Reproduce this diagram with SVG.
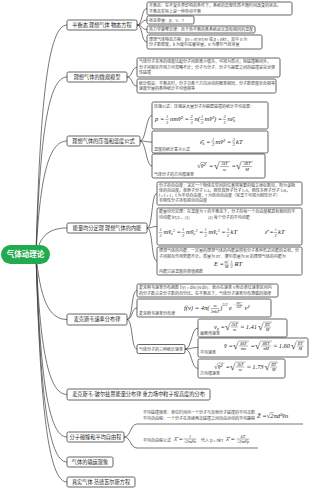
<svg xmlns="http://www.w3.org/2000/svg" width="310" height="488" viewBox="0 0 310 488">
<style>
.bx{fill:#fff;stroke:#3c3c3c;stroke-width:0.8}
.lk{fill:none;stroke:#3c3c3c;stroke-width:0.7}
.ul{stroke:#3c3c3c;stroke-width:0.7}
.t1{font-family:"Noto Sans CJK SC","Noto Sans",sans-serif;font-size:5.2px;fill:#222;text-anchor:middle}
.t2{font-family:"Noto Sans CJK SC","Noto Sans",sans-serif;font-size:4px;fill:#444}
.rt{font-family:"Noto Sans CJK SC","Noto Sans",sans-serif;font-size:7.5px;font-weight:bold;fill:#fff;text-anchor:middle}
.f{font-family:"Liberation Serif",serif;font-style:italic;font-size:6.5px;fill:#222}
.fn{font-family:"Liberation Serif",serif;font-style:italic;font-size:4.3px;fill:#222;text-anchor:middle}
.fx{font-family:"Liberation Serif",serif;font-style:italic;font-size:3.3px;fill:#222;text-anchor:middle}
.sq{font-family:"Liberation Serif",serif;font-size:9.5px;fill:#222}
.sq2{font-family:"Liberation Serif",serif;font-size:7px;fill:#222}
.fb{stroke:#222;stroke-width:0.35}
</style>
<rect x="0" y="0" width="310" height="488" fill="#fff"/>

<g id="connectors">
<path class="lk" d="M36 254 C40 103 48 25 67 25"/>
<path class="lk" d="M36 254 C40 137 48 77 67 77"/>
<path class="lk" d="M36 254 C40 179 48 141 67 141"/>
<path class="lk" d="M36 254 C40 237 48 228 67 228"/>
<path class="lk" d="M36 254 C40 297 48 319.5 67 319.5"/>
<path class="lk" d="M36 254 C40 347 48 394.5 67 394.5"/>
<path class="lk" d="M36 254 C40 375 48 437 67 437"/>
<path class="lk" d="M36 254 C40 391 48 462 67 462"/>
<path class="lk" d="M36 254 C40 404 48 482 67 482"/>
<path class="lk" d="M137 25 C143 25 141 8.5 147 8.5"/>
<path class="lk" d="M137 25 C143 25 141 20 147 20"/>
<path class="lk" d="M137 25 C143 25 141 29.5 147 29.5"/>
<path class="lk" d="M137 25 C143 25 141 42 147 42"/>
<path class="lk" d="M127 77 C133 77 131 67.5 137 67.5"/>
<path class="lk" d="M127 77 C133 77 131 86 137 86"/>
<path class="lk" d="M140 141 C146 141 146 115.5 152 115.5"/>
<path class="lk" d="M140 141 C146 141 146 142 152 142"/>
<path class="lk" d="M140 141 C146 141 146 166 152 166"/>
<path class="lk" d="M147 228 C153 228 151 193.5 157 193.5"/>
<path class="lk" d="M147 228 C153 228 151 226.5 157 226.5"/>
<path class="lk" d="M147 228 C153 228 151 261 157 261"/>
<path class="lk" d="M127 319.5 C133 319.5 131 290.5 137 290.5"/>
<path class="lk" d="M127 319.5 C133 319.5 131 308 137 308"/>
<path class="lk" d="M127 319.5 C133 319.5 131 349 137 349"/>
<path class="lk" d="M185 349 C192 349 191 328 198 328"/>
<path class="lk" d="M185 349 C192 349 191 347.5 198 347.5"/>
<path class="lk" d="M185 349 C192 349 191 368.5 198 368.5"/>
<path class="lk" d="M124 437 C131 437 130 424 137 424"/>
<path class="lk" d="M124 437 C131 437 130 448 137 448"/>
</g>

<g id="root">
<rect x="1" y="245" width="49" height="19" rx="9.5" fill="#22aa4f"/>
<text class="rt" x="25.5" y="257.3">气体动理论</text>
</g>

<g id="b1">
<rect class="bx" x="67" y="20" width="70" height="10" rx="1.5"/>
<text class="t1" x="102" y="26.9">平衡态 理想气体 物态方程</text>
</g>
<g id="b1a">
<rect class="bx" x="147" y="2" width="145" height="13" rx="1.5"/>
<text class="t2" x="149" y="7.3">平衡态：在不受外界影响的条件下，系统的宏观性质不随时间改变的状态。</text>
<text class="t2" x="149" y="12.8">平衡态实际上是一种热动平衡</text>
</g>
<g id="b1b">
<rect class="bx" x="147" y="16" width="47" height="8" rx="1.5"/>
<text class="t2" x="149" y="21.5">状态参量：p、V、T</text>
</g>
<g id="b1c">
<rect class="bx" x="147" y="26" width="108" height="7" rx="1.5"/>
<text class="t2" x="149" y="31">热力学第零定律：处于热平衡的各系统必定具有相同的温度</text>
</g>
<g id="b1d">
<rect class="bx" x="147" y="35" width="115" height="14" rx="1.5"/>
<text class="t2" x="149" y="40.6">理想气体物态方程：pV = m'RT/M 或 p = nkT，其中 n 为</text>
<text class="t2" x="149" y="46.2">分子数密度，k 为玻尔兹曼常量，R 为摩尔气体常量</text>
</g>

<g id="b2">
<rect class="bx" x="67" y="72" width="60" height="10" rx="1.5"/>
<text class="t1" x="97" y="78.9">理想气体的微观模型</text>
</g>
<g id="b2a">
<rect class="bx" x="137" y="58" width="143" height="19" rx="1.5"/>
<text class="t2" x="139" y="63.3">气体分子本身的线度比起分子间距离小很多，可视为质点；除碰撞瞬间外，</text>
<text class="t2" x="139" y="68.8">分子间相互作用力可忽略不计；分子与分子、分子与器壁之间的碰撞是完全弹</text>
<text class="t2" x="139" y="74.3">性碰撞</text>
</g>
<g id="b2b">
<rect class="bx" x="137" y="79" width="139" height="14" rx="1.5"/>
<text class="t2" x="139" y="84.5">统计假设：平衡态时，分子沿各个方向运动的概率相同，分子数密度处处相等</text>
<text class="t2" x="139" y="90.2">速度分量的各种统计平均值相等</text>
</g>

<g id="b3">
<rect class="bx" x="67" y="136" width="73" height="10" rx="1.5"/>
<text class="t1" x="103.5" y="142.9">理想气体的压强和温度公式</text>
</g>
<g id="b3a">
<rect class="bx" x="152" y="102" width="116" height="27" rx="1.5"/>
<text class="t2" x="154" y="107.5">压强公式：压强是大量分子对器壁碰撞的统计平均效果：</text>
<text class="f" x="155" y="121">p =</text>
<text class="fn" x="167" y="118.3">1</text><line class="fb" x1="165.3" y1="119.5" x2="168.7" y2="119.5"/><text class="fn" x="167" y="123.6">3</text>
<text class="f" x="170" y="121">nmv̄² =</text>
<text class="fn" x="191.5" y="118.3">2</text><line class="fb" x1="189.8" y1="119.5" x2="193.2" y2="119.5"/><text class="fn" x="191.5" y="123.6">3</text>
<text class="f" x="194.5" y="121">n(</text>
<text class="fn" x="202" y="118.3">1</text><line class="fb" x1="200.3" y1="119.5" x2="203.7" y2="119.5"/><text class="fn" x="202" y="123.6">2</text>
<text class="f" x="204.5" y="121">mv̄²) =</text>
<text class="fn" x="224.5" y="118.3">2</text><line class="fb" x1="222.8" y1="119.5" x2="226.2" y2="119.5"/><text class="fn" x="224.5" y="123.6">3</text>
<text class="f" x="227.5" y="121">nε̄<tspan font-size="4" dy="1">k</tspan></text>
</g>
<g id="b3b">
<rect class="bx" x="152" y="131" width="116" height="22" rx="1.5"/>
<text class="f" x="200" y="143.5">ε̄<tspan font-size="4" dy="1">k</tspan><tspan dy="-1"> =</tspan></text>
<text class="fn" x="213" y="140.8">1</text><line class="fb" x1="211.3" y1="142" x2="214.7" y2="142"/><text class="fn" x="213" y="146.1">2</text>
<text class="f" x="215.5" y="143.5">mv̄² =</text>
<text class="fn" x="233.5" y="140.8">3</text><line class="fb" x1="231.8" y1="142" x2="235.2" y2="142"/><text class="fn" x="233.5" y="146.1">2</text>
<text class="f" x="236" y="143.5">kT</text>
<text class="t2" x="154" y="150.5">温度的统计意义公式</text>
</g>
<g id="b3c">
<rect class="bx" x="152" y="154" width="113" height="24" rx="1.5"/>
<text class="sq2" x="197" y="168">√</text><line class="fb" x1="200.7" y1="162.6" x2="207.3" y2="162.6"/>
<text class="f" x="200.8" y="168">v̄²</text>
<text class="f" x="209" y="168">=</text>
<text class="sq" x="214" y="169">√</text><line class="fb" x1="219" y1="161.6" x2="230" y2="161.6"/>
<text class="fn" x="224.5" y="165.3">3kT</text><line class="fb" x1="220" y1="166.5" x2="229" y2="166.5"/><text class="fn" x="224.5" y="170.6">m</text>
<text class="f" x="231.5" y="168">=</text>
<text class="sq" x="236" y="169">√</text><line class="fb" x1="241" y1="161.6" x2="253" y2="161.6"/>
<text class="fn" x="247" y="165.3">3RT</text><line class="fb" x1="242" y1="166.5" x2="252" y2="166.5"/><text class="fn" x="247" y="170.6">M</text>
<text class="t2" x="154" y="175.5">气体分子的方均根速率</text>
</g>

<g id="b4">
<rect class="bx" x="67" y="223" width="80" height="10" rx="1.5"/>
<text class="t1" x="107" y="229.9">能量均分定理 理想气体的内能</text>
</g>
<g id="b4a">
<rect class="bx" x="157" y="182" width="145" height="23" rx="1.5"/>
<text class="t2" x="159" y="187.3">分子的自由度：决定一个物体在空间的位置所需要的独立坐标数目，称为该物</text>
<text class="t2" x="159" y="192.3">体的自由度。单原子分子 i=3，刚性双原子分子 i=5，刚性多原子分子 i=6，</text>
<text class="t2" x="159" y="197.3">i = t + r，t 为平动自由度，r 为转动自由度（常温下可视为刚性分子）</text>
<text class="t2" x="159" y="202.3">非刚性分子还有振动自由度</text>
</g>
<g id="b4b">
<rect class="bx" x="157" y="208" width="145" height="37" rx="1.5"/>
<text class="t2" x="159" y="213.3">能量均分定理：在温度为 T 的平衡态下，分子的每一个自由度都具有相同的平</text>
<text class="t2" x="159" y="218.8">均动能 kT/2 。(1)</text>
<text class="t2" x="208" y="218.8">(2) 每个分子的平均动能</text>
<text class="fn" x="160.5" y="231.3">1</text><line class="fb" x1="158.8" y1="232.5" x2="162.2" y2="232.5"/><text class="fn" x="160.5" y="236.6">2</text>
<text class="f" x="163.5" y="234">mv̄<tspan font-size="4" dy="1">x</tspan><tspan font-size="4" dy="-3.5">2</tspan><tspan dy="2.5"> =</tspan></text>
<text class="fn" x="183" y="231.3">1</text><line class="fb" x1="181.3" y1="232.5" x2="184.7" y2="232.5"/><text class="fn" x="183" y="236.6">2</text>
<text class="f" x="186" y="234">mv̄<tspan font-size="4" dy="1">y</tspan><tspan font-size="4" dy="-3.5">2</tspan><tspan dy="2.5"> =</tspan></text>
<text class="fn" x="205.5" y="231.3">1</text><line class="fb" x1="203.8" y1="232.5" x2="207.2" y2="232.5"/><text class="fn" x="205.5" y="236.6">2</text>
<text class="f" x="208.5" y="234">mv̄<tspan font-size="4" dy="1">z</tspan><tspan font-size="4" dy="-3.5">2</tspan><tspan dy="2.5"> =</tspan></text>
<text class="fn" x="228" y="231.3">1</text><line class="fb" x1="226.3" y1="232.5" x2="229.7" y2="232.5"/><text class="fn" x="228" y="236.6">2</text>
<text class="f" x="230.5" y="234">kT</text>
<text class="f" x="265" y="234">ε̄ =</text>
<text class="fn" x="275.5" y="231.3">i</text><line class="fb" x1="273.8" y1="232.5" x2="277.2" y2="232.5"/><text class="fn" x="275.5" y="236.6">2</text>
<text class="f" x="278" y="234">kT</text>
</g>
<g id="b4c">
<rect class="bx" x="157" y="247" width="145" height="28" rx="1.5"/>
<text class="t2" x="159" y="252.3">理想气体的内能：一定量的理想气体的内能是所有分子各种形式动能的总和，分</text>
<text class="t2" x="159" y="257.5">子间相互作用势能不计。质量为 m'、摩尔质量为 M 的理想气体的内能为</text>
<text class="f" x="214" y="265.5">E =</text>
<text class="fn" x="226.5" y="262.8">m'</text><line class="fb" x1="224.5" y1="264" x2="228.5" y2="264"/><text class="fn" x="226.5" y="268.1">M</text>
<text class="fn" x="231.5" y="262.8">i</text><line class="fb" x1="230" y1="264" x2="233" y2="264"/><text class="fn" x="231.5" y="268.1">2</text>
<text class="f" x="234.5" y="265.5">RT</text>
<text class="t2" x="159" y="272.6">内能只是温度的单值函数</text>
</g>

<g id="b5">
<rect class="bx" x="67" y="314" width="60" height="11" rx="1.5"/>
<text class="t1" x="97" y="321.4">麦克斯韦速率分布律</text>
</g>
<g id="b5a">
<rect class="bx" x="137" y="284" width="141" height="13" rx="1.5"/>
<text class="t2" x="139" y="289.3">麦克斯韦速率分布函数 f(v) = dN/(N dv)：表示在速率 v 附近单位速率区间内</text>
<text class="t2" x="139" y="294.8">的分子数占总分子数的百分比。在平衡态下，气体分子速率分布遵循的规律</text>
</g>
<g id="b5b">
<rect class="bx" x="137" y="299" width="134" height="18" rx="1.5"/>
<text class="f" x="184" y="310">f(v) = 4π(</text>
<text class="fn" x="215" y="307.3">m</text><line class="fb" x1="210.5" y1="308.5" x2="219.5" y2="308.5"/><text class="fn" x="215" y="312.6">2πkT</text>
<text class="f" x="220" y="310">)</text>
<text class="fn" x="225" y="306">3/2</text>
<text class="f" x="229" y="310">e</text>
<text class="fx" x="233.5" y="305.6">−</text>
<text class="fx" x="239" y="304">mv²</text><line class="fb" x1="235.5" y1="305" x2="242.5" y2="305"/><text class="fx" x="239" y="308">2kT</text>
<text class="f" x="244.5" y="310">v²</text>
<text class="t2" x="139" y="314.5">麦克斯韦速率分布律</text>
</g>
<g id="b5c">
<rect class="bx" x="137" y="344.5" width="48" height="9" rx="1.5"/>
<text class="t2" x="139" y="350.5">气体分子的三种统计速率</text>
</g>
<g id="b5c1">
<rect class="bx" x="198" y="319" width="89" height="18" rx="1.5"/>
<text class="f" x="214" y="328.5">v<tspan font-size="4" dy="1">p</tspan><tspan dy="-1"> =</tspan></text>
<text class="sq" x="225" y="329.5">√</text><line class="fb" x1="230" y1="322.1" x2="239" y2="322.1"/>
<text class="fn" x="234.5" y="325.8">2kT</text><line class="fb" x1="231" y1="327" x2="238" y2="327"/><text class="fn" x="234.5" y="331.1">m</text>
<text class="f" x="240.5" y="328.5">≈ 1.41</text>
<text class="sq" x="258" y="329.5">√</text><line class="fb" x1="263" y1="322.1" x2="272" y2="322.1"/>
<text class="fn" x="267.5" y="325.8">RT</text><line class="fb" x1="264" y1="327" x2="271" y2="327"/><text class="fn" x="267.5" y="331.1">M</text>
<text class="t2" x="200" y="334.8">最概然速率</text>
</g>
<g id="b5c2">
<rect class="bx" x="198" y="338" width="110" height="19" rx="1.5"/>
<text class="f" x="224" y="347.5">v̄ =</text>
<text class="sq" x="233" y="348.5">√</text><line class="fb" x1="238" y1="341.1" x2="249" y2="341.1"/>
<text class="fn" x="243.5" y="344.8">8kT</text><line class="fb" x1="239" y1="346" x2="248" y2="346"/><text class="fn" x="243.5" y="350.1">πm</text>
<text class="f" x="250.5" y="347.5">=</text>
<text class="sq" x="255" y="348.5">√</text><line class="fb" x1="260" y1="341.1" x2="272" y2="341.1"/>
<text class="fn" x="266" y="344.8">8RT</text><line class="fb" x1="261" y1="346" x2="271" y2="346"/><text class="fn" x="266" y="350.1">πM</text>
<text class="f" x="273.5" y="347.5">≈ 1.60</text>
<text class="sq" x="291" y="348.5">√</text><line class="fb" x1="296" y1="341.1" x2="304.5" y2="341.1"/>
<text class="fn" x="300.2" y="344.8">RT</text><line class="fb" x1="297" y1="346" x2="303.5" y2="346"/><text class="fn" x="300.2" y="350.1">M</text>
<text class="t2" x="200" y="354.2">平均速率</text>
</g>
<g id="b5c3">
<rect class="bx" x="198" y="359" width="87" height="19" rx="1.5"/>
<text class="sq2" x="214" y="368.5">√</text><line class="fb" x1="217.7" y1="363.1" x2="224.3" y2="363.1"/>
<text class="f" x="217.7" y="368.5">v̄²</text>
<text class="f" x="225.5" y="368.5">=</text>
<text class="sq" x="230" y="369.5">√</text><line class="fb" x1="235" y1="362.1" x2="245.5" y2="362.1"/>
<text class="fn" x="240.2" y="365.8">3kT</text><line class="fb" x1="236" y1="367" x2="244.5" y2="367"/><text class="fn" x="240.2" y="371.1">m</text>
<text class="f" x="247" y="368.5">≈ 1.73</text>
<text class="sq" x="264.5" y="369.5">√</text><line class="fb" x1="269.5" y1="362.1" x2="278" y2="362.1"/>
<text class="fn" x="273.7" y="365.8">RT</text><line class="fb" x1="270.5" y1="367" x2="277" y2="367"/><text class="fn" x="273.7" y="371.1">M</text>
<text class="t2" x="200" y="375.2">方均根速率</text>
</g>

<g id="b6">
<rect class="bx" x="67" y="389" width="143" height="11" rx="1.5"/>
<text class="t1" x="138.5" y="396.4">麦克斯韦-玻尔兹曼能量分布律 重力场中粒子按高度的分布</text>
</g>

<g id="b7">
<rect class="bx" x="67" y="432" width="57" height="10" rx="1.5"/>
<text class="t1" x="95.5" y="438.9">分子碰撞和平均自由程</text>
</g>
<g id="b7a">
<text class="t2" x="143" y="414.3">平均碰撞频率：单位时间内一个分子与其他分子碰撞的平均次数</text>
<text class="t2" x="143" y="419.8">平均自由程：一个分子在连续两次碰撞之间自由运动的平均路程</text>
<text class="f" x="257" y="418">Z̄ =</text>
<text class="sq2" x="266.5" y="418">√</text><line class="fb" x1="270.2" y1="412.6" x2="273.8" y2="412.6"/>
<text class="f" x="270.3" y="418">2πd²v̄n</text>
<line class="ul" x1="137" y1="424" x2="303" y2="424"/>
</g>
<g id="b7b">
<text class="f" x="174" y="440.5">λ̄ =</text>
<text class="fn" x="190" y="437.8">1</text><line class="fb" x1="183.5" y1="439" x2="196.5" y2="439"/><text class="fn" x="190" y="443.1">√2πd²n</text>
<text class="t2" x="201" y="441.5">代入 p = nkT</text>
<text class="f" x="226" y="440.5">λ̄ =</text>
<text class="fn" x="243" y="437.8">kT</text><line class="fb" x1="236.5" y1="439" x2="249.5" y2="439"/><text class="fn" x="243" y="443.1">√2πd²p</text>
<text class="t2" x="143" y="442">平均自由程公式</text>
<line class="ul" x1="137" y1="448" x2="258" y2="448"/>
</g>

<g id="b8">
<rect class="bx" x="67" y="457" width="46" height="10" rx="1.5"/>
<text class="t1" x="90" y="463.9">气体的输运现象</text>
</g>
<g id="b9">
<rect class="bx" x="67" y="477" width="68" height="10" rx="1.5"/>
<text class="t1" x="101" y="483.9">真实气体 范德瓦尔斯方程</text>
</g>
</svg>
